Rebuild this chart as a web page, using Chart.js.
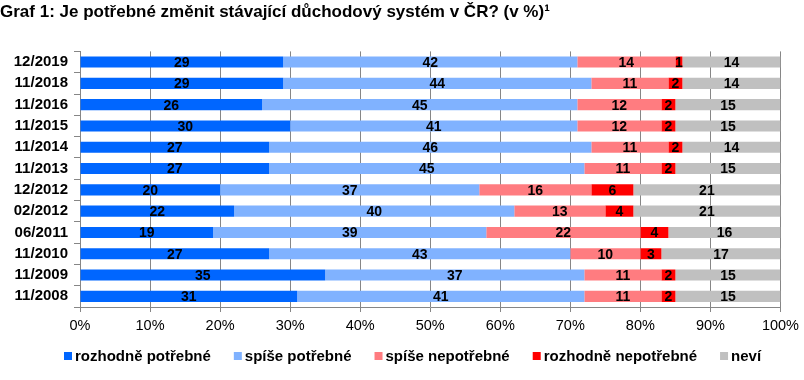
<!DOCTYPE html>
<html>
<head>
<meta charset="utf-8">
<script src="https://cdn.jsdelivr.net/npm/chart.js@4.4.0/dist/chart.umd.min.js"></script>
<style>
html,body{margin:0;padding:0;background:#fff;}
#wrap{width:804px;height:380px;}
</style>
</head>
<body>
<div id="wrap"><canvas id="c" width="804" height="380"></canvas></div>
<script>
const categories = ['12/2019','11/2018','11/2016','11/2015','11/2014','11/2013','12/2012','02/2012','06/2011','11/2010','11/2009','11/2008'];
const rozhodnePotrebne   = [29,29,26,30,27,27,20,22,19,27,35,31];
const spisePotrebne      = [42,44,45,41,46,45,37,40,39,43,37,41];
const spiseNepotrebne    = [14,11,12,12,11,11,16,13,22,10,11,11];
const rozhodneNepotrebne = [1,2,2,2,2,2,6,4,4,3,2,2];
const nevi               = [14,14,15,15,14,15,21,21,16,17,15,15];
const seriesNames = ['rozhodně potřebné','spíše potřebné','spíše nepotřebné','rozhodně nepotřebné','neví'];
const xTicks = [0,10,20,30,40,50,60,70,80,90,100];
const titleText = 'Graf 1: Je potřebné změnit stávající důchodový systém v ČR? (v %)¹';

const colors = ['#0066FF','#80B2FF','#FF7C80','#FF0000','#C0C0C0'];
const FONT = "'Liberation Sans', Arial, sans-serif";

const valueLabels = {
  id: 'valueLabels',
  afterDatasetsDraw(chart) {
    const ctx = chart.ctx;
    ctx.save();
    ctx.font = "bold 14px " + FONT;
    ctx.fillStyle = '#000';
    ctx.textAlign = 'center';
    ctx.textBaseline = 'middle';
    chart.data.datasets.forEach((ds, i) => {
      const meta = chart.getDatasetMeta(i);
      meta.data.forEach((el, j) => {
        const v = ds.data[j];
        const p = el.getProps(['x','y','base'], true);
        ctx.fillText(String(v), (p.x + p.base) / 2, p.y + 1);
      });
    });
    ctx.restore();
  }
};

// Legend drawn from the chart's own datasets
const bottomLegend = {
  id: 'bottomLegend',
  afterDraw(chart) {
    const ctx = chart.ctx;
    ctx.save();
    ctx.font = "bold 15px " + FONT;
    ctx.textBaseline = 'middle';
    ctx.textAlign = 'left';
    const box = 8, gap = 3, itemGap = 23, cx = 413, cy = 356;
    const items = chart.data.datasets.map(ds => ({ text: ds.label, color: ds.backgroundColor, w: ctx.measureText(ds.label).width }));
    const total = items.reduce((s, it) => s + box + gap + it.w, 0) + itemGap * (items.length - 1);
    let x = Math.round(cx - total / 2);
    items.forEach(it => {
      ctx.fillStyle = it.color;
      ctx.fillRect(x, cy - 4, box, box);
      ctx.fillStyle = '#000';
      ctx.fillText(it.text, x + box + gap, cy + 1);
      x += box + gap + it.w + itemGap;
    });
    ctx.restore();
  }
};

const allSeries = [rozhodnePotrebne, spisePotrebne, spiseNepotrebne, rozhodneNepotrebne, nevi];

new Chart(document.getElementById('c'), {
  type: 'bar',
  data: {
    labels: categories,
    datasets: allSeries.map((d, i) => ({
      label: seriesNames[i],
      data: d,
      backgroundColor: colors[i],
      borderWidth: 0,
      barPercentage: 0.52,
      categoryPercentage: 1.0
    }))
  },
  options: {
    indexAxis: 'y',
    responsive: false,
    animation: false,
    devicePixelRatio: 1,
    layout: { padding: { left: 0, right: 23, top: 0, bottom: 45 } },
    scales: {
      x: {
        stacked: true,
        min: 0, max: 100,
        afterBuildTicks(scale) { scale.ticks = xTicks.map(v => ({ value: v })); },
        afterFit(scale) { scale.height = 28; },
        ticks: {
          callback: v => v + '%',
          font: { family: FONT, size: 14.5 },
          color: '#000',
          padding: 5,
          maxRotation: 0
        },
        grid: { color: '#868686', lineWidth: 1, tickLength: 5 },
        border: { color: '#868686' }
      },
      y: {
        stacked: true,
        afterFit(scale) { scale.width = 80; },
        ticks: {
          font: { family: FONT, size: 15, weight: 'bold' },
          color: '#000',
          padding: 6
        },
        grid: { display: true, drawOnChartArea: false, offset: true, tickLength: 6, color: '#868686' },
        border: { color: '#868686' }
      }
    },
    plugins: {
      title: {
        display: true,
        text: titleText,
        align: 'start',
        color: '#000',
        font: { family: FONT, size: 17, weight: 'bold' },
        padding: { top: 2, bottom: 29 }
      },
      legend: { display: false },
      tooltip: { enabled: false }
    }
  },
  plugins: [valueLabels, bottomLegend]
});
</script>
</body>
</html>
